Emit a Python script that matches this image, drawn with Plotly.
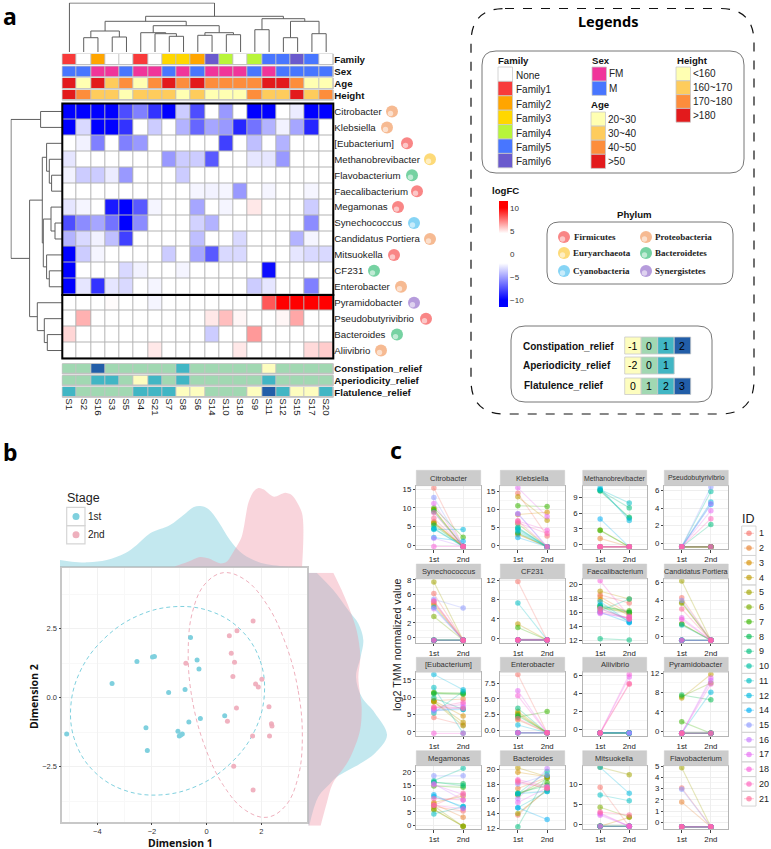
import plotly.graph_objects as go

W, H = 771, 849
SANS = "Liberation Sans"
SERIF = "Liberation Serif"
TITLE_FONT = "Noto Sans"

# ---- panel a data
COLUMNS = ["S1", "S2", "S16", "S3", "S5", "S4", "S21", "S7", "S8", "S6",
           "S14", "S10", "S18", "S9", "S11", "S12", "S15", "S17", "S20"]
TAXA = ["Citrobacter", "Klebsiella", "[Eubacterium]", "Methanobrevibacter",
        "Flavobacterium", "Faecalibacterium", "Megamonas", "Synechococcus",
        "Candidatus Portiera", "Mitsuokella", "CF231", "Enterobacter",
        "Pyramidobacter", "Pseudobutyrivibrio", "Bacteroides", "Aliivibrio"]
TAXA_PHYLUM = ["Proteobacteria", "Proteobacteria", "Firmicutes", "Euryarchaeota",
               "Bacteroidetes", "Firmicutes", "Firmicutes", "Cyanobacteria",
               "Proteobacteria", "Firmicutes", "Bacteroidetes", "Proteobacteria",
               "Synergistetes", "Firmicutes", "Bacteroidetes", "Proteobacteria"]
LOGFC = [
    [-10, -10, -10, -10, -7.6, -6, -8.4, -10, -3.6, -7.6, 0, -5.2, 0, -10, -10, 0, -2.6, -10, -10],
    [-10, -3.2, -10, -10, -8.4, 0, -3.6, 0, -4.4, -6.8, -4.8, -5.2, -8.8, -6.4, -4.4, -2.4, -4.8, -8.8, 0],
    [0, -2.4, -6, 0, -6, -5.2, 0, 0, 0, 0, 0, -8, 0, -4, 0, -4.4, 0, 0, 0],
    [-2.8, 0, 0, 0, 0, 0, 0, -5.2, -3.6, -3.6, -7.2, 0, 0, -2.8, -2.8, -5.2, 0, 0, 0],
    [-2.4, -3.6, -3.6, -2.6, -5.2, 0, 0, 0, -3.6, 0, 0, 0, 0, 0, 0, 0, 0, 0, 0],
    [0, 0, 0, 0, 0, 0, 0, 0, 0, -2.3, -2.4, -2.3, -5.2, 0, -2.3, 0, 0, -2.3, 0],
    [-2.8, -2.3, 0, -9.2, -10, -7.2, -2.3, 0, 0, -4.8, 0, -2.3, 0, 5, 0, 0, 0, -3.6, 0],
    [-7.6, -5.6, -4.8, -6.4, -10, -5.6, 0, 0, 0, -3.4, -4.4, 0, 0, 0, 0, 0, 0, -5.6, 0],
    [-4.4, -3.2, -2.4, -4, -8, 0, 0, 0, 0, -4, 0, 0, -3.2, 0, 0, 0, -4.4, -2.3, 0],
    [-10, -3.6, -2.3, 0, 0, 0, 0, -3.6, 0, -4.8, -7.2, -3.2, -3.2, 0, 0, 0, -2.8, -3.2, -3.2],
    [-10, 0, 0, 0, -3.2, -2.4, 0, 0, -2.3, 0, 0, 0, 0, 0, -9.6, 0, 0, 0, 0],
    [-10, -2.8, -8.4, -2.8, -3.2, 0, -2.3, 0, 0, 0, 0, 0, 0, -3.6, -2.8, 0, 0, -6, 0],
    [0, 0, 0, 4.6, 0, 0, -2.3, 0, 0, 0, 0, 0, 0, 0, 8.1, 10, 10, 10, 10],
    [0, 6.2, 0, 0, 0, 0, 0, 0, 0, 0, 5, 5.9, 4.7, 0, 0, 4.7, 6.4, 0, 0],
    [5.4, 0, 0, 0, 0, 0, 0, 0, 0, 0, -3.6, 0, 0, 6.7, 0, 0, 0, 0, 0],
    [0, 0, 0, 0, 0, 0, 5, 0, 0, 0, 0, 0, 5, 0, 0, 0, 0, 5.3, 5.6],
]

FAMILY = [1, 0, 2, 0, 0, 1, 0, 3, 3, 2, 6, 4, 0, 4, 5, 5, 6, 5, 0]
SEX = [1, 1, 0, 0, 1, 0, 0, 1, 0, 1, 0, 0, 0, 1, 0, 1, 1, 1, 1]
AGE = [3, 0, 3, 1, 2, 0, 2, 3, 2, 3, 2, 2, 2, 2, 3, 3, 2, 0, 0]
HEIGHT = [3, 2, 1, 1, 0, 1, 1, 1, 0, 1, 0, 0, 0, 2, 1, 1, 3, 1, 2]
CONSTIPATION = [0, 0, 2, 0, 0, 0, 0, 0, 1, 0, 0, 0, 0, 0, -1, 0, 0, 0, 0]
APERIODICITY = [0, 0, 1, 1, 0, -1, 1, 0, 1, 0, 0, 0, 0, 0, 1, 0, 0, 0, 0]
FLATULENCE = [2, 1, 1, 1, 1, 2, 2, 2, 0, 0, 1, 1, 1, 0, 3, 2, 0, 0, 2]

FAMILY_LABELS = ["None", "Family1", "Family2", "Family3", "Family4", "Family5", "Family6"]
SEX_LABELS = ["FM", "M"]
AGE_LABELS = ["20~30", "30~40", "40~50", ">50"]
HEIGHT_LABELS = ["<160", "160~170", "170~180", ">180"]
PHYLA = ["Firmicutes", "Euryarchaeota", "Cyanobacteria",
         "Proteobacteria", "Bacteroidetes", "Synergistetes"]

# dendrograms: (merge height, left, right), ints are leaf positions
COL_TREE = (49, 0, (35.7,
    (30.7, (21, (14.3, 1, 2), (15, 3, 4)),
           (26.3, (19.3, 5, (18.3, 6, (15.7, 7, 8))),
                  (19.3, (16.7, 9, 10), (17.3, 11, 12)))),
    (33.3, (22.3, 13, 14),
           (30.7, (14.3, 15, 16), (18.3, 17, 18)))))
ROW_TREE = (51.3, (21.7, 0, 1), (32.7,
    (20, (15.7, 2, (13, 3, (10.7, 4, 5))),
         (19, (11.3, 6, (7.3, 7, 8)), (15.7, 9, (13, 10, 11)))),
    (25, 12, (18, 13, (15, 14, 15)))))

# ---- panel b data
X_1ST = [-5.12, -3.46, -2.55, -1.98, -1.91, -1.39, -0.79, -0.59, -0.35, -0.28,
         -0.23, -0.65, -1.05, -0.89, -1.0, -0.95, -2.22, -2.17, 0.66]
Y_1ST = [-1.31, 0.52, 1.31, 1.48, 1.49, 0.19, 0.30, 2.18, 1.37, 1.04,
         -0.75, -0.88, -1.21, -1.31, -1.39, -1.35, -1.09, -1.91, -0.65]
X_2ND = [1.70, 0.83, 1.11, 0.90, 1.02, -0.76, 0.96, 2.02, 1.79, 1.89,
         2.28, 1.09, 0.76, 2.37, 2.39, 2.30, 1.68, 0.99, 1.70]
Y_2ND = [2.78, 2.25, 2.43, 1.61, 1.29, 1.25, 0.77, 0.67, 0.50, 0.39,
         -0.33, -0.37, -0.85, -0.94, -1.02, -1.39, -1.39, -2.48, -3.34]
ELLIPSE_1ST_X = [2.11, 1.94, 1.26, 0.18, -1.16, -2.54, -3.74, -4.60, -4.97,
                 -4.80, -4.12, -3.04, -1.70, -0.32, 0.88, 1.74, 2.11]
ELLIPSE_1ST_Y = [0.10, 1.39, 2.45, 3.12, 3.30, 2.96, 2.15, 1.01, -0.32,
                 -1.61, -2.67, -3.34, -3.52, -3.18, -2.37, -1.23, 0.10]
ELLIPSE_2ND_X = [3.50, 3.34, 2.88, 2.21, 1.41, 0.61, -0.06, -0.52, -0.675,
                 -0.52, -0.06, 0.61, 1.41, 2.21, 2.88, 3.34, 3.50]
ELLIPSE_2ND_Y = [-1.41, 0.30, 1.98, 3.37, 4.27, 4.53, 4.12, 3.10, 1.61,
                 -0.10, -1.78, -3.17, -4.07, -4.33, -3.92, -2.90, -1.41]
# marginal densities
DENS_X_1ST_POS = [-5.37, -4.94, -4.33, -3.66, -2.99, -2.56, -2.07, -1.34, -0.85, -0.49,
                  -0.24, 0.06, 0.43, 0.85, 1.22, 1.71, 2.2, 2.68, 3.49]
DENS_X_1ST = [0.020, 0.015, 0.013, 0.020, 0.040, 0.065, 0.100, 0.125, 0.155, 0.178,
              0.182, 0.173, 0.135, 0.080, 0.045, 0.020, 0.007, 0.002, 0]
DENS_X_2ND_POS = [-1.16, -0.73, -0.24, 0.06, 0.49, 0.73, 0.98, 1.28, 1.52, 1.71,
                  1.89, 2.07, 2.46, 2.87, 3.11, 3.49, 3.49]
DENS_X_2ND = [0.001, 0.013, 0.029, 0.025, 0.010, 0.015, 0.045, 0.090, 0.190, 0.225,
              0.236, 0.232, 0.210, 0.222, 0.215, 0.160, 0]
DENS_Y_1ST_POS = [4.53, 3.90, 3.17, 2.69, 2.09, 1.49, 0.76, 0.04, -0.55, -1.35,
                  -2.0, -2.38, -2.86, -3.10, -3.57, -4.62]
DENS_Y_1ST = [0.025, 0.075, 0.120, 0.150, 0.165, 0.157, 0.143, 0.160, 0.200, 0.236,
              0.200, 0.155, 0.085, 0.065, 0.030, 0.003]
DENS_Y_2ND_POS = [4.53, 3.90, 3.17, 2.44, 1.49, 0.76, 0.16, -0.33, -1.18, -1.90,
                  -2.38, -3.10, -3.82, -4.62]
DENS_Y_2ND = [0.075, 0.100, 0.125, 0.145, 0.156, 0.150, 0.155, 0.160, 0.155, 0.135,
              0.115, 0.073, 0.055, 0.037]

# ---- panel c data, one value per ID, same order as IDS
IDS = ["1", "2", "3", "4", "5", "6", "7", "8", "9", "10", "11", "12", "14",
       "15", "16", "17", "18", "20", "21"]
ID_COLORS = ["#F8766D", "#EA8331", "#D89000", "#C09B00", "#A3A500", "#7CAE00", "#39B600",
             "#00BB4E", "#00BF7D", "#00C1A3", "#00BFC4", "#00BAE0", "#00B0F6", "#8F9BFF",
             "#C77CFF", "#E76BF3", "#FA62DB", "#FF62BC", "#FF6A98"]
N = -0.4
CITRO_1 = [15.4, 6.3, 9.6, 6.0, 5.8, 9.5, 10.0, 5.3, 9.0, 4.5, 4.3, 4.2, 2.0, 12.8, 1.8, 11.2, N, 8.7, 7.2]
CITRO_2 = [N, N, N, N, N, N, 2.1, N, N, N, N, 4.2, 1.0, N, N, N, N, N, N]
KLEB_1 = [14.5, 3.0, 8.6, 13.5, 3.2, 6.0, 11.0, 3.5, 4.8, 4.5, 5.0, 4.0, 2.2, 8.8, 8.8, 16.0, 6.8, 6.3, 6.8]
KLEB_2 = [2.6, N, 9.2, 7.0, N, N, 10.8, N, N, N, N, N, N, N, N, 8.0, 4.2, 3.3, N]
METH_1 = [N, 1.2, N, N, N, 2.8, 2.7, 10.2, 10.3, 10.4, 10.5, 10.8, 4.9, N, N, N, N, N, N]
METH_2 = [N, N, N, N, N, N, N, 5.2, 7.0, 5.0, 7.9, 4.6, N, N, N, N, N, N, N]
PSEU_1 = [N] * 19
PSEU_2 = [N, N, N, N, N, N, N, N, 2.15, 5.9, N, 4.7, 4.4, 6.4, 4.5, 3.7, N, 2.8, N]
SYNE_1 = [6.1, 4.8, 4.5, N, 7.7, 2.9, N, N, N, N, N, N, 4.2, 5.3, 4.0, 5.1, N, N, 5.0]
SYNE_2 = [N, N, N, N, N, N, N, N, N, N, N, N, N, 4.1, N, N, N, N, N]
CF23_1 = [11.8, N, N, 2.9, N, N, 2.2, N, N, N, 7.3, N, N, N, N, N, N, N, N]
CF23_2 = [N] * 19
FAEC_1 = [18.5, 18.2, 17.8, 19, 16.7, 16.6, 16.8, 17, 12.2, 16.2, 17, 17.5, 16, 16.5, 15.9, 15.8, 20.5, 16.1, 16.5]
FAEC_2 = [17.3, 15.8, 15.5, 17.9, 16, 15.9, 16.2, 16, 12, 17.9, 14.6, 14.6, 14.5, 15, 15.1, 15.2, 15.4, 15.2, 15]
CAND_1 = [4.3, N, 3.8, 1.4, 6.15, 3.7, 1.4, N, N, N, 1.3, N, N, 4.0, N, 2.1, 1.9, N, 3.05]
CAND_2 = [N] * 19
EUBA_1 = [4.2, 9, 9, 8.7, 8.7, 11.2, 11.4, 11, 9.8, 5.5, 12.8, 16.6, 6.3, 6, 6.5, 6.8, N, 7, 7.2]
EUBA_2 = [2, 9.5, 4.6, 2.8, 1.8, 10.8, 11.2, 11, 6.5, 11.7, N, 12.2, 6.5, 7, 7.2, 8, N, 8.6, 6.8]
ENTE_1 = [8.9, 1.7, N, 3, 2.7, 2.5, 2.1, 2.3, 3.5, N, N, 0.85, N, N, N, 6.3, 5.5, N, 1.9]
ENTE_2 = [N, N, N, N, N, N, 3.0, N, N, N, N, N, N, N, N, N, N, N, N]
ALII_1 = [N] * 19
ALII_2 = [N, N, N, N, N, N, N, N, N, N, N, N, N, N, N, 5.8, 6.1, 5.1, 5.0]
PYRA_1 = [N, N, N, 6.9, N, 7.2, 2, 7.5, N, N, N, N, N, N, N, N, N, N, N]
PYRA_2 = [N, N, N, 11.8, N, 10, N, 6.5, N, N, N, 8.1, N, N, 10.5, 11, 9.8, N, N]
MEGA_1 = [7, 8, 8.5, 6, 7.2, 5.8, 14.7, 16, 16.2, 16.7, 4.2, 10.8, 11.4, 18.5, 15.5, 15.2, 7.5, 10, 7.5]
MEGA_2 = [5.3, 3, 11, N, N, N, 14.2, 15.5, 14.8, 21.3, 7, 7, 6.5, 18.5, 9.5, 11.5, 6.2, 9.5, 12]
BACT_1 = [13.8, 17.4, 19.6, 20.2, 14, 16.5, 16.6, 16.8, 12.2, 16.7, 14.8, 16.7, 14.8, 18, 16, 15.5, 18.6, 18.2, 18.4]
BACT_2 = [17.3, 18.9, 19, 19, 17.2, 18.8, 18.2, 17.8, 19.2, 19.7, 17, 17, 13.2, 19.2, 20.1, 17.5, 17.7, 17.5, 17.4]
MITS_1 = [9.2, N, N, N, 14.1, 4.3, N, N, N, N, 7.3, 14.1, N, N, 2.6, 2.3, 2.9, N, 3.1]
MITS_2 = [N, N, 1.8, N, 12.3, 1.9, N, N, N, N, 5.9, 7.7, N, N, N, N, N, N, 2.4]
FLAV_1 = [3.05, 1.8, N, N, 4.85, N, N, N, N, N, N, N, N, 2.95, N, N, N, N, N]
FLAV_2 = [N] * 19

# name, 1st, 2nd, y range, ticks, strip font size
FACETS = [
    ("Citrobacter", CITRO_1, CITRO_2, [-1.16, 16.0], [0, 5, 10, 15], 7.6),
    ("Klebsiella", KLEB_1, KLEB_2, [-1.1, 16.6], [0, 5, 10, 15], 7.6),
    ("Methanobrevibacter", METH_1, METH_2, [-0.87, 11.2], [0, 3, 6, 9], 6.9),
    ("Pseudobutyrivibrio", PSEU_1, PSEU_2, [-0.68, 6.55], [0, 2, 4, 6], 6.9),
    ("Synechococcus", SYNE_1, SYNE_2, [-0.75, 8.13], [0, 2, 4, 6, 8], 7.6),
    ("CF231", CF23_1, CF23_2, [-0.98, 12.3], [0, 4, 8, 12], 7.6),
    ("Faecalibacterium", FAEC_1, FAEC_2, [11.62, 20.76], [12, 14, 16, 18, 20], 7.4),
    ("Candidatus Portiera", CAND_1, CAND_2, [-0.66, 6.37], [0, 2, 4, 6], 7.2),
    ("[Eubacterium]", EUBA_1, EUBA_2, [-1.07, 17.2], [0, 5, 10, 15], 7.6),
    ("Enterobacter", ENTE_1, ENTE_2, [-0.86, 9.25], [0, 2.5, 5, 7.5], 7.6),
    ("Aliivibrio", ALII_1, ALII_2, [-0.71, 6.33], [0, 2, 4, 6], 7.6),
    ("Pyramidobacter", PYRA_1, PYRA_2, [-0.91, 12.2], [0, 4, 8, 12], 7.6),
    ("Megamonas", MEGA_1, MEGA_2, [-1.39, 22.3], [0, 5, 10, 15, 20], 7.6),
    ("Bacteroides", BACT_1, BACT_2, [11.9, 20.49], [12, 14, 16, 18, 20], 7.6),
    ("Mitsuokella", MITS_1, MITS_2, [-1.06, 14.5], [0, 5, 10], 7.6),
    ("Flavobacterium", FLAV_1, FLAV_2, [-0.59, 5.03], [0, 1, 2, 3, 4, 5], 7.6),
]

# ---- colours
FAMILY_COLORS = ["#ffffff", "#f83a3a", "#ffa500", "#ffd700", "#b8f53a", "#4876ff", "#6a5acd"]
SEX_COLORS = ["#f0359a", "#4876ff"]
YLORRD = ["#ffffb2", "#fecc5c", "#fd8d3c", "#e31a1c"]
RELIEF_COLORS = ["#fdfdbf", "#a1d8b2", "#41b6c4", "#225ea8"]
PHYLUM_COLORS = {"Firmicutes": "#f98686", "Proteobacteria": "#f6ba92", "Euryarchaeota": "#fdda78",
                 "Bacteroidetes": "#76d2a2", "Cyanobacteria": "#86d4f5", "Synergistetes": "#b69cdc"}
C_1ST, C_2ND = "#7fd0de", "#eeb0bd"
F_1ST, F_2ND = "rgba(105,197,215,0.4)", "rgba(240,150,167,0.4)"

fig = go.Figure()
shapes, notes, axes = [], [], {}
axis_count = [0]


def px(x):
    return x / W


def py(y):
    return 1 - y / H


def new_axes(x0, x1, y0, y1, xopts=None, yopts=None):
    axis_count[0] += 1
    n = axis_count[0]
    base = dict(showgrid=False, zeroline=False, showticklabels=False, ticks="", fixedrange=True)
    axes[f"xaxis{n}"] = {**base, "domain": [px(x0), px(x1)], "anchor": f"y{n}", **(xopts or {})}
    axes[f"yaxis{n}"] = {**base, "domain": [py(y1), py(y0)], "anchor": f"x{n}", **(yopts or {})}
    return f"x{n}", f"y{n}"


def text(x, y, s, size=10, anchor="left", bold=False, family=SANS, color="#111", angle=0):
    notes.append(dict(x=px(x), y=py(y), xref="paper", yref="paper", text=s, showarrow=False,
                      xanchor=anchor, yanchor="middle", textangle=angle, borderpad=0, borderwidth=0,
                      font=dict(size=size, family=family, color=color,
                                weight=700 if bold else 400)))


def rect(x0, y0, x1, y1, fill="rgba(0,0,0,0)", line="#bbbbbb", width=1, layer="above"):
    shapes.append(dict(type="rect", xref="paper", yref="paper", x0=px(x0), x1=px(x1),
                       y0=py(y0), y1=py(y1), fillcolor=fill, layer=layer,
                       line=dict(color=line, width=width)))


def round_box(x0, y0, x1, y1, r, color="#777777", width=1, dash="solid"):
    a, b, c, d = px(x0), px(x1), py(y0), py(y1)
    rx, ry = r / W, r / H
    path = (f"M {a + rx} {c} L {b - rx} {c} Q {b} {c} {b} {c - ry} L {b} {d + ry} Q {b} {d} {b - rx} {d} "
            f"L {a + rx} {d} Q {a} {d} {a} {d + ry} L {a} {c - ry} Q {a} {c} {a + rx} {c} Z")
    shapes.append(dict(type="path", path=path, xref="paper", yref="paper",
                       line=dict(color=color, width=width, dash=dash)))


def stepped(colors):
    n = len(colors)
    out = []
    for i, c in enumerate(colors):
        out += [[i / n, c], [(i + 1) / n, c]]
    return out


def tree_segments(node, xs, ys):
    # walks a merge tree, returns (leaf position, height) of the node
    if isinstance(node, int):
        return node, 0
    h, left, right = node
    p0, h0 = tree_segments(left, xs, ys)
    p1, h1 = tree_segments(right, xs, ys)
    xs += [p0, p0, p1, p1, None]
    ys += [h0, h, h, h1, None]
    return (p0 + p1) / 2, h


# ---- panel a
HM_X0, HM_X1 = 62.3, 333.3
HM_Y0, HM_Y1 = 103.5, 358.5


def strip_heat(values, label, y0, y1, colors, zmin, ticklabels=False):
    xopts = dict(type="category", range=[-0.5, 18.5])
    if ticklabels:
        xopts.update(showticklabels=True, side="bottom", tickangle=90,
                     tickfont=dict(size=9.7, family=SANS, color="#222"), tickmode="array",
                     tickvals=COLUMNS, ticktext=COLUMNS)
    xa, ya = new_axes(HM_X0, HM_X1, y0, y1, xopts,
                      dict(side="right", showticklabels=True, tickfont=dict(size=9.7, family=SANS, color="#111", weight=700)))
    rect(HM_X0, y0, HM_X1, y1, fill="#c2c2c2", line="#c2c2c2", layer="below")
    fig.add_trace(go.Heatmap(z=[values], x=COLUMNS, y=[label], xaxis=xa, yaxis=ya, showscale=False, xgap=1, ygap=1,
                             colorscale=stepped(colors), zmin=zmin, zmax=zmin + len(colors), hoverinfo="skip"))


strip_heat(FAMILY, "Family", 54, 64.5, FAMILY_COLORS, -0.5)
strip_heat(SEX, "Sex", 66.3, 76.8, SEX_COLORS, -0.5)
strip_heat(AGE, "Age", 78, 88.8, YLORRD, -0.5)
strip_heat(HEIGHT, "Height", 90, 100.2, YLORRD, -0.5)
strip_heat(CONSTIPATION, "Constipation_relief", 363.7, 374, RELIEF_COLORS, -1.5)
strip_heat(APERIODICITY, "Aperiodicity_relief", 375.5, 385.7, RELIEF_COLORS, -1.5)
strip_heat(FLATULENCE, "Flatulence_relief", 387, 397.3, RELIEF_COLORS, -0.5, ticklabels=True)

rect(HM_X0, HM_Y0, HM_X1, HM_Y1, fill="#b4b4b4", line="#b4b4b4", layer="below")
xa, ya = new_axes(HM_X0, HM_X1, HM_Y0, HM_Y1, dict(type="category", range=[-0.5, 18.5]),
                  dict(type="category", autorange="reversed", side="right", showticklabels=True,
                       tickfont=dict(size=9.7, family=SANS, color="#222")))
LOGFC_SCALE = [[0, "#0000ff"], [0.0652, "#0000ff"], [0.413, "#ffffff"], [0.696, "#ffffff"],
               [0.935, "#ff0000"], [1, "#ff0000"]]
fig.add_trace(go.Heatmap(
    z=LOGFC, x=COLUMNS, y=TAXA, xaxis=xa, yaxis=ya, xgap=1, ygap=1, zmin=-11.5, zmax=11.5,
    colorscale=LOGFC_SCALE, hoverinfo="skip",
    colorbar=dict(x=px(499), xanchor="left", xpad=0, y=py(254), yanchor="middle", ypad=0, thickness=8.5,
                  lenmode="pixels", len=106, outlinewidth=0, ticks="", tickvals=[-10, -5, 0, 5, 10],
                  tickfont=dict(size=8, family=SANS, color="#333"))))
rect(HM_X0, HM_Y0, HM_X1, 295, line="#000000", width=2)
rect(HM_X0, 295, HM_X1, HM_Y1, line="#000000", width=2)

xs, ys = [], []
tree_segments(COL_TREE, xs, ys)
xa, ya = new_axes(HM_X0, HM_X1, 2.5, 52, dict(range=[-0.5, 18.5]), dict(range=[0, 49.5]))
fig.add_trace(go.Scatter(x=xs, y=ys, xaxis=xa, yaxis=ya, mode="lines", line=dict(color="#5f5f5f", width=1), cliponaxis=False))

xs, ys = [], []
tree_segments(ROW_TREE, ys, xs)
xa, ya = new_axes(10.5, HM_X0, HM_Y0, HM_Y1, dict(range=[51.8, 0]), dict(range=[15.5, -0.5]))
fig.add_trace(go.Scatter(x=xs, y=ys, xaxis=xa, yaxis=ya, mode="lines", line=dict(color="#5f5f5f", width=1), cliponaxis=False))

# page-sized axes for legend glyphs
PAGE_X, PAGE_Y = new_axes(0, W, 0, H, dict(range=[0, W]), dict(range=[H, 0]))


def ball(xs, ys, colors, size=12):
    fig.add_trace(go.Scatter(x=xs, y=ys, xaxis=PAGE_X, yaxis=PAGE_Y, mode="markers",
                             marker=dict(size=size, color=colors, line=dict(width=0))))
    fig.add_trace(go.Scatter(x=[v - 1.5 for v in xs], y=[v + 2 for v in ys], xaxis=PAGE_X, yaxis=PAGE_Y, mode="markers",
                             marker=dict(size=size * 0.45, color="rgba(255,255,255,0.55)", line=dict(width=0))))


BALL_X = [392, 387, 407, 430, 412, 417, 398, 414, 430, 394, 374, 401, 414, 426, 397, 381]
row_h = (HM_Y1 - HM_Y0) / len(TAXA)
ball(BALL_X, [HM_Y0 + (i + 0.5) * row_h for i in range(len(TAXA))], [PHYLUM_COLORS[p] for p in TAXA_PHYLUM])

# legends box
round_box(471, 8.5, 754, 414, 34, color="#111111", width=1.2, dash="dash")
text(607.7, 21, "Legends", size=14.5, anchor="center", bold=True, family=TITLE_FONT, color="#000")
round_box(482, 51, 744, 173, 14)
round_box(547, 222, 733, 284, 12)
round_box(511, 326, 712, 402, 14)


def legend_column(title, tx, ty, labels, colors, sx, sy, step, lx, ly, size=10):
    text(tx, ty, title, size=9.6, bold=True)
    for i, (lab, col) in enumerate(zip(labels, colors)):
        rect(sx, sy + i * step, sx + 14.5, sy + (i + 1) * step, fill=col, line="#c9c9c9", width=0.8)
        text(lx, ly + i * step, lab, size=size, color="#222")


legend_column("Family", 498, 61, FAMILY_LABELS, FAMILY_COLORS, 498, 67, 14.4, 515.7, 75.5)
legend_column("Sex", 592, 60, SEX_LABELS, SEX_COLORS, 592, 67, 14.2, 609, 74)
legend_column("Age", 591, 105, AGE_LABELS, YLORRD, 591, 112, 14.1, 608, 119)
legend_column("Height", 677, 60, HEIGHT_LABELS, YLORRD, 676, 67, 13.8, 693, 74)

text(492, 190, "logFC", size=9.6, bold=True)
text(634, 214, "Phylum", size=9.6, anchor="center", bold=True)
phylum_ball_x = [564, 564, 564, 646, 646, 646]
phylum_text_x = [574, 573, 573, 655, 655, 655]
phylum_y = [237, 253, 271, 237, 253, 271]
ball(phylum_ball_x, phylum_y, [PHYLUM_COLORS[p] for p in PHYLA])
for p, tx, ty in zip(PHYLA, phylum_text_x, phylum_y):
    text(tx, ty, p, size=9, bold=True, family=SERIF, color="#222")

RELIEF_ROWS = [("Constipation_relief", 522.7, 346, 337, 354, ["-1", "0", "1", "2"], [0, 1, 2, 3]),
               ("Aperiodicity_relief", 523, 366, 357, 374, ["-2", "0", "1"], [0, 1, 2]),
               ("Flatulence_relief", 524, 385, 378, 394.5, ["0", "1", "2", "3"], [0, 1, 2, 3])]
for label, tx, ty, y0, y1, levels, cols in RELIEF_ROWS:
    text(tx, ty, label, size=10, bold=True, color="#111")
    for i, (lev, c) in enumerate(zip(levels, cols)):
        x0 = 624.7 + i * 16.5
        rect(x0, y0, x0 + 16.5, y1, fill=RELIEF_COLORS[c], line="#c9c9c9", width=0.8)
        text(x0 + 8.2, (y0 + y1) / 2, lev, size=10.5, anchor="center", color="#000")

# ---- panel b
B_X0, B_X1, B_Y0, B_Y1 = 62.3, 306.7, 568, 821.7
GRID = "#f1f1f1"
xa, ya = new_axes(B_X0, B_X1, B_Y0, B_Y1,
                  dict(range=[-5.28, 3.66], tick0=0, dtick=2, showticklabels=True, ticks="outside", ticklen=2, tickcolor="#444",
                       showgrid=True, gridcolor=GRID, minor=dict(showgrid=True, dtick=1, gridcolor="#f8f8f8", ticks=""),
                       tickfont=dict(size=7.5, family=SANS, color="#333"), showline=True, mirror=True, linecolor="#c8c8c8", linewidth=1.5),
                  dict(range=[-4.49, 4.70], tick0=0, dtick=2.5, showticklabels=True, ticks="outside", ticklen=2, tickcolor="#444",
                       showgrid=True, gridcolor=GRID, minor=dict(showgrid=True, dtick=1.25, gridcolor="#f8f8f8", ticks=""),
                       tickformat=".1f", tickfont=dict(size=7.5, family=SANS, color="#333"),
                       showline=True, mirror=True, linecolor="#c8c8c8", linewidth=1.5))
fig.add_trace(go.Scatter(x=ELLIPSE_1ST_X, y=ELLIPSE_1ST_Y, xaxis=xa, yaxis=ya, mode="lines",
                         line=dict(color=C_1ST, width=1, dash="4px,3px", shape="spline", smoothing=1.1)))
fig.add_trace(go.Scatter(x=ELLIPSE_2ND_X, y=ELLIPSE_2ND_Y, xaxis=xa, yaxis=ya, mode="lines",
                         line=dict(color=C_2ND, width=1, dash="4px,3px", shape="spline", smoothing=1.1)))
fig.add_trace(go.Scatter(x=X_1ST, y=Y_1ST, xaxis=xa, yaxis=ya, mode="markers",
                         marker=dict(size=5, color=C_1ST, line=dict(width=0))))
fig.add_trace(go.Scatter(x=X_2ND, y=Y_2ND, xaxis=xa, yaxis=ya, mode="markers",
                         marker=dict(size=5, color="rgba(238,170,185,0.9)", line=dict(width=0))))

xa, ya = new_axes(60, B_X1, 488, 566.7, dict(range=[-5.37, 3.66]), dict(range=[0, 0.236]))
fig.add_trace(go.Scatter(x=DENS_X_1ST_POS, y=DENS_X_1ST, xaxis=xa, yaxis=ya, mode="lines", fill="tozeroy",
                         fillcolor=F_1ST, line=dict(shape="spline", width=0), cliponaxis=False))
fig.add_trace(go.Scatter(x=DENS_X_2ND_POS, y=DENS_X_2ND, xaxis=xa, yaxis=ya, mode="lines", fill="tozeroy",
                         fillcolor=F_2ND, line=dict(shape="spline", width=0, smoothing=0.8), cliponaxis=False))

xa, ya = new_axes(308.3, 387, 572.7, 825.7, dict(range=[0, 0.236]),
                  dict(range=[-4.62, 4.53]))
fig.add_trace(go.Scatter(x=DENS_Y_1ST, y=DENS_Y_1ST_POS, xaxis=xa, yaxis=ya, mode="lines", fill="tozerox",
                         fillcolor=F_1ST, line=dict(shape="spline", width=0)))
fig.add_trace(go.Scatter(x=DENS_Y_2ND, y=DENS_Y_2ND_POS, xaxis=xa, yaxis=ya, mode="lines", fill="tozerox",
                         fillcolor=F_2ND, line=dict(shape="spline", width=0)))

text(180, 843, "Dimension 1", size=10.5, anchor="center", bold=True, family=TITLE_FONT, color="#111")
text(34, 697, "Dimension 2", size=10.5, anchor="center", bold=True, family=TITLE_FONT, color="#111", angle=-90)

text(67, 498, "Stage", size=12.5, color="#222")
for i, (lab, col) in enumerate([("1st", C_1ST), ("2nd", C_2ND)]):
    y0 = 507.3 + i * 18.3
    rect(66.7, y0, 85, y0 + 18.3, line="#d5d5d5", width=1.2)
    text(88, y0 + 9.2, lab, size=10, color="#222")
fig.add_trace(go.Scatter(x=[76, 76], y=[516.4, 534.7], xaxis=PAGE_X, yaxis=PAGE_Y, mode="markers",
                         marker=dict(size=7, color=[C_1ST, C_2ND], line=dict(width=0))))

# ---- panel c
FACET_XS = [(416.3, 480.7), (500.3, 564.7), (582.7, 646.7), (664.3, 728.3)]
FACET_YS = [(470.3, 485.7, 549.3), (564, 579, 642.7), (657.3, 672.3, 735.7), (750.7, 765.7, 829)]
for k, (name, first, second, yrange, ticks, strip_size) in enumerate(FACETS):
    x0, x1 = FACET_XS[k % 4]
    s0, y0, y1 = FACET_YS[k // 4]
    ticktext = [f"{t:.1f}" for t in ticks] if name == "Enterobacter" else [str(t) for t in ticks]
    step = ticks[1] - ticks[0]
    xa, ya = new_axes(x0, x1, y0, y1,
                      dict(range=[0.4, 2.6], tickmode="array", tickvals=[1, 2], ticktext=["1st", "2nd"], showticklabels=True,
                           ticks="outside", ticklen=2.5, tickcolor="#444", showgrid=True, gridcolor="#eeeeee",
                           tickfont=dict(size=7.8, family=SANS, color="#222"),
                           showline=True, mirror=True, linecolor="#b5b5b5", linewidth=1),
                      dict(range=yrange, tickmode="array", tickvals=ticks, ticktext=ticktext, showticklabels=True,
                           ticks="outside", ticklen=2.5, tickcolor="#444", showgrid=True, gridcolor="#eeeeee",
                           minor=dict(showgrid=True, tickmode="array", tickvals=[t + step / 2 for t in ticks], gridcolor="#f6f6f6", ticks=""),
                           tickfont=dict(size=7.8, family=SANS, color="#222"),
                           showline=True, mirror=True, linecolor="#b5b5b5", linewidth=1))
    for i, col in enumerate(ID_COLORS):
        fig.add_trace(go.Scatter(x=[1, 2], y=[first[i], second[i]], xaxis=xa, yaxis=ya, mode="lines",
                                 line=dict(color=col, width=1.1), opacity=0.27))
        fig.add_trace(go.Scatter(x=[1, 2], y=[first[i], second[i]], xaxis=xa, yaxis=ya, mode="markers",
                                 marker=dict(size=5.5, color=col, line=dict(width=0)), opacity=0.55, cliponaxis=False))
    rect(x0, s0, x1, y0, fill="#cccccc", line="#cccccc", width=0.5)
    text((x0 + x1) / 2, (s0 + y0) / 2, name, size=strip_size, anchor="center", color="#333")

text(397, 645, "log2 TMM normalized value", size=10.8, anchor="center", color="#222", angle=-90)
text(742, 519, "ID", size=12.5, color="#222")
for i, (lab, col) in enumerate(zip(IDS, ID_COLORS)):
    cy = 526 + (i + 0.5) * 14.74
    rect(741.7, cy - 7.37, 756, cy + 7.37, line="#d5d5d5", width=1)
    text(758.5, cy, lab, size=9, color="#222")
    fig.add_trace(go.Scatter(x=[744, 754], y=[cy, cy], xaxis=PAGE_X, yaxis=PAGE_Y, mode="lines",
                             line=dict(color=col, width=1.1), opacity=0.35))
    fig.add_trace(go.Scatter(x=[749], y=[cy], xaxis=PAGE_X, yaxis=PAGE_Y, mode="markers",
                             marker=dict(size=5.5, color=col, line=dict(width=0)), opacity=0.65))

text(3, 16, "a", size=23, bold=True, family=TITLE_FONT, color="#000")
text(3, 452, "b", size=23, bold=True, family=TITLE_FONT, color="#000")
text(390, 450, "c", size=23, bold=True, family=TITLE_FONT, color="#000")

fig.update_layout(width=W, height=H, margin=dict(l=0, r=0, t=0, b=0, autoexpand=False), showlegend=False,
                  paper_bgcolor="white", plot_bgcolor="rgba(0,0,0,0)", shapes=shapes, annotations=notes, **axes)
fig.write_html("out.html", config=dict(displayModeBar=False), post_script="document.body.style.margin='0';")
